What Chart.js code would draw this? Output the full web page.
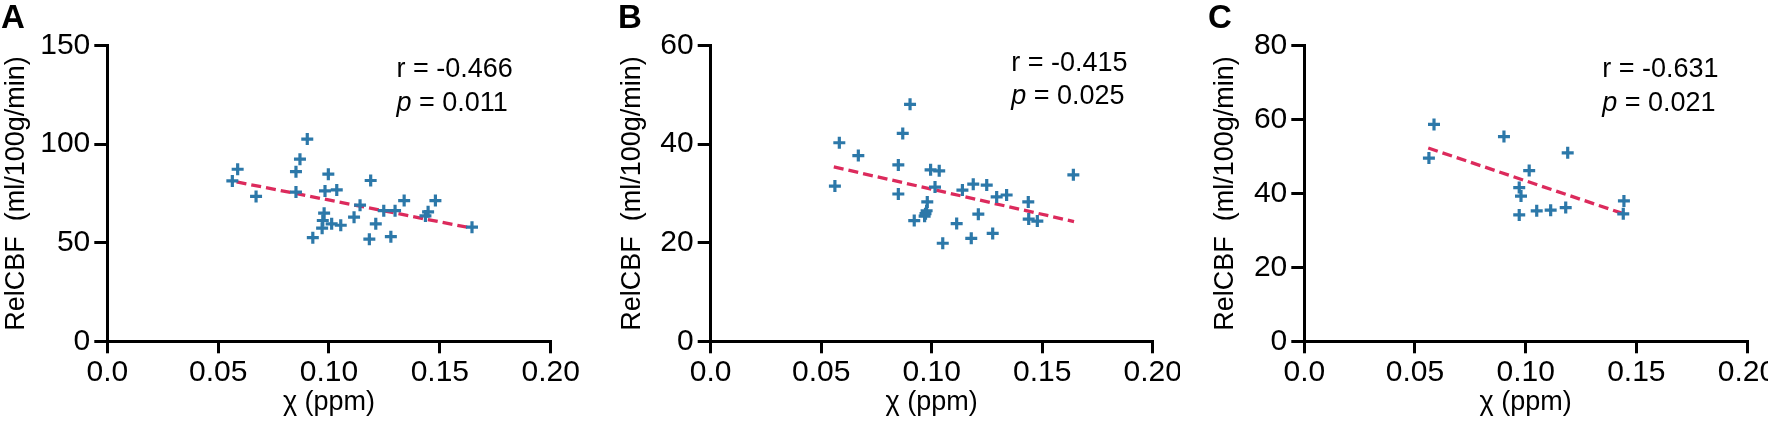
<!DOCTYPE html>
<html>
<head>
<meta charset="utf-8">
<script src="https://cdn.jsdelivr.net/npm/chart.js@4.4.1/dist/chart.umd.min.js"></script>
<style>
body { margin: 0; background: #fff; }
#wrap { position: relative; width: 1768px; height: 422px; overflow: hidden; }
canvas { position: absolute; top: 0; }
</style>
</head>
<body>
<div id="wrap">
<canvas id="chartA" width="590" height="422" style="left:0px"></canvas>
<canvas id="chartB" width="590" height="422" style="left:590px"></canvas>
<canvas id="chartC" width="588" height="422" style="left:1180px"></canvas>
</div>
<script>
// shared x axis
const xTickValues = [0, 0.05, 0.1, 0.15, 0.2];
const xTickLabels = ["0.0", "0.05", "0.10", "0.15", "0.20"];

// panel A
const chiA = [0.0564, 0.0588, 0.0671, 0.0851, 0.0851, 0.0869, 0.0902, 0.0927, 0.0997, 0.0982,
              0.1035, 0.0978, 0.0972, 0.0969, 0.1012, 0.1053, 0.1113, 0.1140, 0.1188, 0.1211,
              0.1182, 0.1247, 0.1298, 0.1279, 0.1339, 0.1435, 0.1447, 0.1480, 0.1645];
const cbfA = [81.4, 87.3, 73.5, 86.1, 75.7, 92.4, 102.6, 52.6, 84.8, 76.3,
              76.8, 65.0, 61.3, 57.4, 59.6, 58.9, 63.0, 69.1, 81.6, 59.6,
              51.8, 66.3, 66.3, 53.1, 71.4, 63.6, 65.7, 71.4, 57.9];
const fitXA = [0.0583, 0.1645];
const fitYA = [80.9, 57.4];
const yTicksA = [0, 50, 100, 150];

// panel B
const chiB = [0.0562, 0.0582, 0.0668, 0.0849, 0.0849, 0.0869, 0.0902, 0.0921, 0.0995, 0.1034,
              0.1015, 0.0980, 0.0977, 0.0972, 0.0968, 0.1050, 0.1113, 0.1139, 0.1188, 0.1179,
              0.1211, 0.1249, 0.1276, 0.1294, 0.1339, 0.1437, 0.1439, 0.1478, 0.1641];
const cbfB = [31.5, 40.3, 37.7, 35.8, 29.9, 42.2, 48.1, 24.5, 34.8, 34.6,
              31.3, 28.3, 26.5, 25.9, 25.4, 19.9, 23.9, 30.7, 31.9, 20.9,
              25.8, 31.7, 21.9, 29.3, 29.7, 28.3, 24.8, 24.4, 33.8];
const fitXB = [0.0557, 0.1644];
const fitYB = [35.4, 24.3];
const yTicksB = [0, 20, 40, 60];

// panel C
const chiC = [0.0563, 0.0586, 0.0902, 0.1016, 0.0971, 0.0979, 0.0971, 0.1050, 0.1113, 0.1181,
              0.1190, 0.1444, 0.1441];
const cbfC = [49.6, 58.7, 55.4, 46.2, 41.6, 39.3, 34.2, 35.3, 35.5, 36.2,
              51.0, 38.0, 34.5];
const fitXC = [0.0560, 0.1438];
const fitYC = [52.3, 34.6];
const yTicksC = [0, 20, 40, 60, 80];

const FONT = 'Arial, "Liberation Sans", sans-serif';

const panelText = {
    id: "panelText",
    afterDraw(chart, args, o) {
        const ctx = chart.ctx;
        const area = chart.chartArea;
        ctx.save();
        ctx.fillStyle = "#000";
        ctx.textBaseline = "alphabetic";
        ctx.textAlign = "left";
        ctx.font = "bold 33px " + FONT;
        ctx.fillText(o.letter, o.letterX, 28);

        const x = area.left + o.statsX * (area.right - area.left);
        ctx.font = "27px " + FONT;
        ctx.fillText("r = " + o.r, x, o.rY);
        ctx.font = "italic 27px " + FONT;
        ctx.fillText("p", x, o.pY);
        const w = ctx.measureText("p").width;
        ctx.font = "27px " + FONT;
        ctx.fillText(" = " + o.p, x + w, o.pY);
        ctx.restore();
    }
};
Chart.register(panelText);

function makePanel(id, p) {
    const pts = p.chi.map((x, i) => ({ x: x, y: p.cbf[i] }));
    const fit = p.fitX.map((x, i) => ({ x: x, y: p.fitY[i] }));
    const axisGrid = { drawOnChartArea: false, color: "#000", lineWidth: 3 };

    return new Chart(document.getElementById(id), {
        type: "scatter",
        data: {
            datasets: [
                {
                    data: pts,
                    pointStyle: "cross",
                    pointRadius: 6,
                    pointHoverRadius: 6,
                    borderColor: "#2c78a9",
                    pointBorderWidth: 3.2,
                    order: 0
                },
                {
                    data: fit,
                    showLine: true,
                    borderColor: "#dc2a5c",
                    borderWidth: 3.3,
                    borderDash: [10, 5],
                    pointRadius: 0,
                    order: 1
                }
            ]
        },
        options: {
            responsive: false,
            animation: false,
            layout: { padding: { top: 45.7, right: p.padRight, left: 0, bottom: 0 } },
            plugins: {
                legend: { display: false },
                tooltip: { enabled: false },
                panelText: { letter: p.letter, letterX: p.letterX, r: p.r, p: p.p,
                             statsX: p.statsX, rY: p.rY, pY: p.pY }
            },
            scales: {
                x: {
                    type: "linear", min: 0, max: 0.2,
                    afterBuildTicks: s => { s.ticks = xTickValues.map(v => ({ value: v })); },
                    ticks: { callback: (v, i) => xTickLabels[i], color: "#000",
                             font: { family: FONT, size: 30 }, padding: 1, maxRotation: 0, autoSkip: false },
                    grid: Object.assign({ tickLength: 12 }, axisGrid),
                    border: { color: "#000", width: 3 },
                    title: { display: true, text: "χ (ppm)", color: "#000",
                             font: { family: FONT, size: 27, lineHeight: 1 }, padding: { top: 0, bottom: 6 } },
                    afterFit: s => { s.height = 80.7; s.paddingLeft = 0; s.paddingRight = 0; }
                },
                y: {
                    type: "linear", min: 0, max: p.yMax,
                    afterBuildTicks: s => { s.ticks = p.yTicks.map(v => ({ value: v })); },
                    ticks: { color: "#000", font: { family: FONT, size: 30 }, padding: 4 },
                    grid: Object.assign({ tickLength: 13 }, axisGrid),
                    border: { color: "#000", width: 3 },
                    title: { display: true, text: "RelCBF  (ml/100g/min)", color: "#000",
                             font: { family: FONT, size: 27, lineHeight: 1 }, padding: { top: p.titlePad, bottom: 0 } },
                    afterFit: s => { s.width = p.yWidth; s.paddingTop = 0; s.paddingBottom = 0; }
                }
            }
        }
    });
}

makePanel("chartA", { chi: chiA, cbf: cbfA, fitX: fitXA, fitY: fitYA, yTicks: yTicksA, yMax: 150,
    letter: "A", letterX: 1, r: "-0.466", p: "0.011", statsX: 0.652, rY: 77, pY: 111,
    yWidth: 107.3, padRight: 39.3, titlePad: 3 });
makePanel("chartB", { chi: chiB, cbf: cbfB, fitX: fitXB, fitY: fitYB, yTicks: yTicksB, yMax: 60,
    letter: "B", letterX: 28, r: "-0.415", p: "0.025", statsX: 0.68, rY: 71, pY: 104,
    yWidth: 120.7, padRight: 27.3, titlePad: 29 });
makePanel("chartC", { chi: chiC, cbf: cbfC, fitX: fitXC, fitY: fitYC, yTicks: yTicksC, yMax: 80,
    letter: "C", letterX: 28, r: "-0.631", p: "0.021", statsX: 0.673, rY: 77, pY: 111,
    yWidth: 124.3, padRight: 21, titlePad: 32 });
</script>
</body>
</html>
